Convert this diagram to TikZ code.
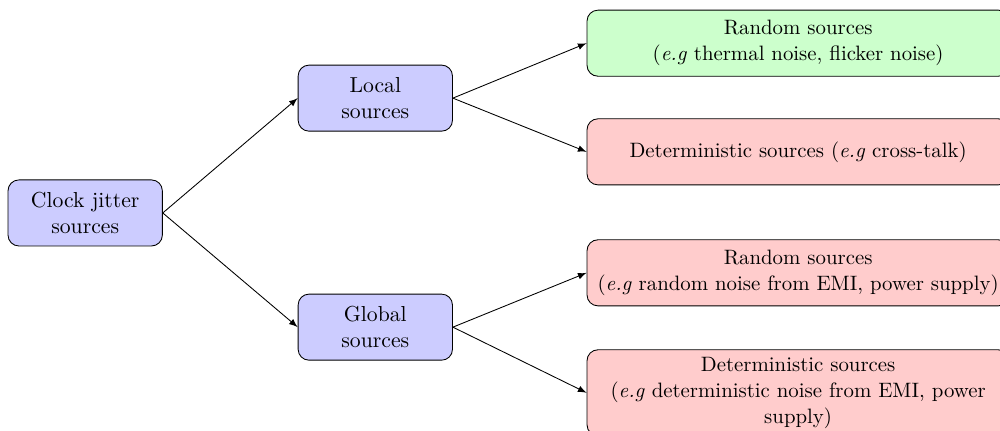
\documentclass[tikz,border=0pt]{standalone}
\usetikzlibrary{arrows}
\tikzset{
  src/.style={draw, rounded corners=5pt, fill=blue!20, minimum width=2.5cm, minimum height=1.07cm, align=center},
  leaf/.style={draw, rounded corners=5pt, minimum width=6.84cm, minimum height=1.07cm, align=center, font=\fontsize{9.6}{12}\selectfont},
}
\begin{document}
\begin{tikzpicture}
          \useasboundingbox (0, 0) rectangle (16.2, 6.97);
          \node [src] (clock) at (1.38, 3.52) {Clock jitter\\sources};
          \node [src] (local) at (6.08, 5.38) {Local\\sources};
          \node [src] (global) at (6.08, 1.67) {Global\\sources};
          \node [leaf, fill=green!20] (locrand) at (12.93, 6.27) {Random sources\\(\textit{e.g} thermal noise, flicker noise)};
          \node [leaf, fill=red!20] (locdet) at (12.93, 4.51) {Deterministic sources (\textit{e.g} cross-talk)};
          \node [leaf, fill=red!20] (globrand) at (12.93, 2.55) {Random sources\\(\textit{e.g} random noise from EMI, power supply)};
          \node [leaf, fill=red!20, anchor=north] (globdet) at (12.93, 1.31) {Deterministic sources\\(\textit{e.g} deterministic noise from EMI, power\\supply)};
          \draw [-latex] (clock.east) -- (local.west);
          \draw [-latex] (clock.east) -- (global.west);
          \draw [-latex] (local.east) -- (locrand.west);
          \draw [-latex] (local.east) -- (locdet.west);
          \draw [-latex] (global.east) -- (globrand.west);
          \draw [-latex] (global.east) -- (globdet.west);
        \end{tikzpicture}
\end{document}
